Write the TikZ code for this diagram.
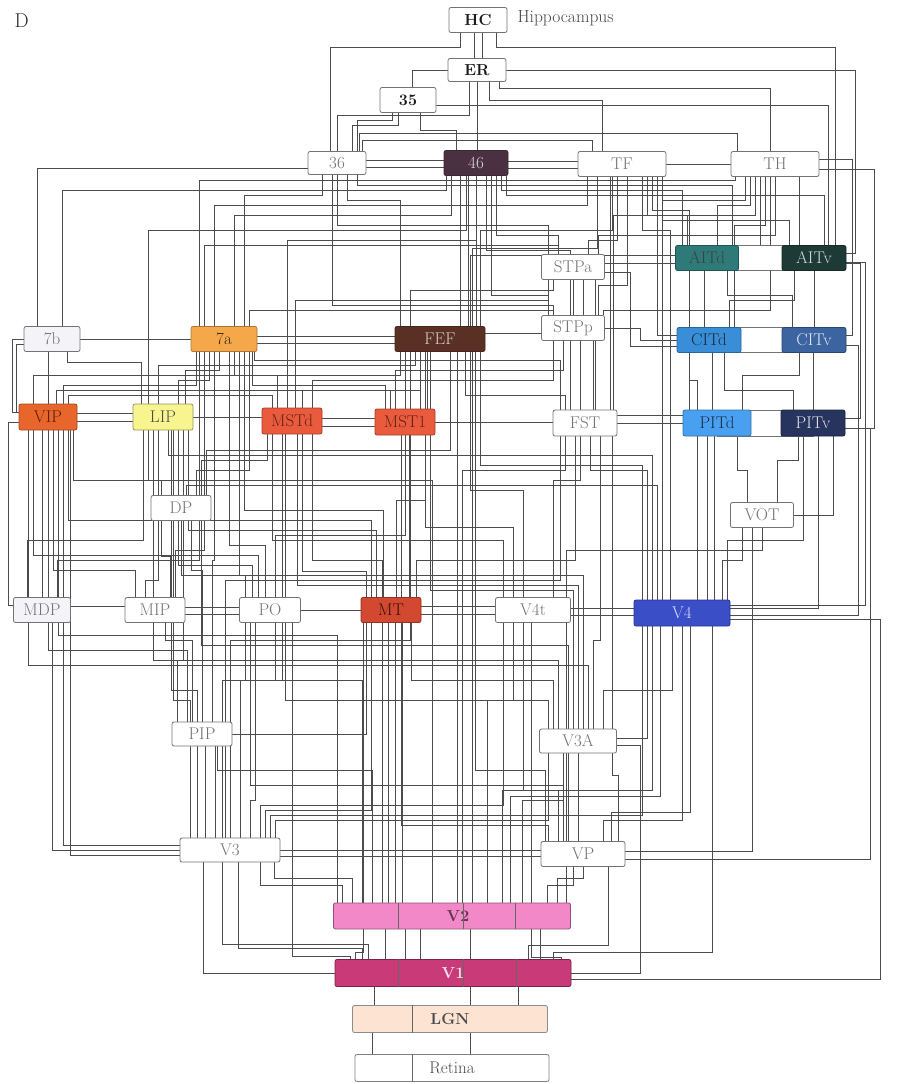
\documentclass[tikz,border=0pt]{standalone}
\usetikzlibrary{calc}
\pgfdeclarelayer{bg}\pgfdeclarelayer{mid}\pgfsetlayers{bg,mid,main}
\definecolor{c46}{HTML}{4A3040}
\definecolor{c7a}{HTML}{F4A84A}
\definecolor{cFEF}{HTML}{5A3024}
\definecolor{cVIP}{HTML}{E8662C}
\definecolor{cLIP}{HTML}{F8F590}
\definecolor{cMST}{HTML}{EA5A3C}
\definecolor{cAITd}{HTML}{2E7A78}
\definecolor{cAITv}{HTML}{1E3A36}
\definecolor{cCITd}{HTML}{3A8ED8}
\definecolor{cCITv}{HTML}{3C64A0}
\definecolor{cPITd}{HTML}{4AA0F0}
\definecolor{cPITv}{HTML}{26345E}
\definecolor{cMT}{HTML}{D24830}
\definecolor{cV4}{HTML}{3A4EC8}
\definecolor{cV2}{HTML}{F388C8}
\definecolor{cV1}{HTML}{C83A78}
\definecolor{cLGN}{HTML}{FDE4D2}
\definecolor{cLav}{HTML}{F3F3F8}
\tikzset{
 box/.style={draw=black!55, rounded corners=2pt, line width=0.8pt, minimum height=25pt,
   inner sep=0pt, font=\fontsize{17}{19}\selectfont, text=black!55, fill=white},
 boldbox/.style={box, text=black!90, font=\bfseries\fontsize{16}{18}\selectfont},
 wire/.style={draw=black!70, line width=0.6pt},
 band/.style={draw=black!55, line width=0.8pt, fill=white},
 divider/.style={draw=black!60, line width=0.6pt}
}
\newcommand\wCn[5]{\draw[wire] let \p1=($(#1)+(#2,0)$),\p2=($(#4)+(#5,0)$) in (\p1)--(\x1,-#3pt)--(\x2,-#3pt)--(\p2);}
\newcommand\wHv[4]{\draw[wire] let \p1=($(#1)+(0,#2)$),\p2=($(#3)+(#4,0)$) in (\p1)--(\x2,\y1)--(\p2);}
\newcommand\wVh[4]{\draw[wire] let \p1=($(#1)+(#2,0)$),\p2=($(#3)+(0,#4)$) in (\p1)--(\x1,\y2)--(\p2);}
\newcommand\wHvh[5]{\draw[wire] let \p1=($(#1)+(0,#2)$),\p2=($(#4)+(0,#5)$) in (\p1)--(#3pt,\y1)--(#3pt,\y2)--(\p2);}
\newcommand\wSv[3]{\draw[wire] let \p1=($(#1)+(#2,0)$),\p2=(#3) in (\p1)--(\x1,\y2);}
\newcommand\wSh[3]{\draw[wire] let \p1=($(#1)+(0,#2)$),\p2=(#3) in (\p1)--(\x2,\y1);}
\begin{document}
\begin{tikzpicture}[x=1pt,y=-1pt]
\useasboundingbox (0,0) rectangle (909,1084);
% labels
\node[anchor=west, font=\fontsize{20}{22}\selectfont, text=black!85] (Dlab) at (11,21) {D};
% nodes
\node[boldbox, minimum width=58pt] (HC) at (478,20) {HC};
\node[anchor=west, font=\fontsize{17.5}{19}\selectfont, text=black!72] (Hip) at (514,18) {Hippocampus};
\node[boldbox, minimum width=58pt, minimum height=23pt] (ER) at (477,70) {ER};
\node[boldbox, minimum width=56pt] (n35) at (408,100) {35};
\node[box, minimum width=58pt, minimum height=23pt] (n36) at (337,163) {36};
\node[box, minimum width=64pt, fill=c46, draw=c46!80!black, text=white!80!c46] (n46) at (476,163) {46};
\node[box, minimum width=88pt] (TF) at (622,164) {TF};
\node[box, minimum width=88pt] (TH) at (775,164) {TH};
\node[box, minimum width=63pt] (STPa) at (573,267) {STPa};
\node[box, minimum width=63pt, fill=cAITd, draw=cAITd!70!black, text=black!75] (AITd) at (707,258) {AITd};
\node[box, minimum width=64pt, fill=cAITv, draw=cAITv!70!black, text=white!80!cAITv] (AITv) at (814,258) {AITv};
\node[box, minimum width=56pt, fill=cLav] (n7b) at (52,339) {7b};
\node[box, minimum width=66pt, fill=c7a, draw=c7a!70!black, text=black!75!c7a] (n7a) at (224,339) {7a};
\node[box, minimum width=90pt, fill=cFEF, draw=cFEF!80!black, text=white!75!cFEF] (FEF) at (440,339) {FEF};
\node[box, minimum width=63pt] (STPp) at (573,328) {STPp};
\node[box, minimum width=64pt, fill=cCITd, draw=cCITd!70!black, text=black!70!cCITd] (CITd) at (709,340) {CITd};
\node[box, minimum width=64pt, fill=cCITv, draw=cCITv!70!black, text=white!85!cCITv] (CITv) at (814,340) {CITv};
\node[box, minimum width=58pt, minimum height=26pt, fill=cVIP, draw=cVIP!70!black, text=black!65!cVIP] (VIP) at (48,417) {VIP};
\node[box, minimum width=60pt, minimum height=26pt, fill=cLIP, draw=cLIP!60!black, text=black!70] (LIP) at (163,417) {LIP};
\node[box, minimum width=60pt, minimum height=26pt, fill=cMST, draw=cMST!70!black, text=black!60!cMST] (MSTd) at (292,421) {MSTd};
\node[box, minimum width=60pt, minimum height=26pt, fill=cMST, draw=cMST!70!black, text=black!60!cMST] (MST1) at (405,422) {MST1};
\node[box, minimum width=64pt, minimum height=26pt] (FST) at (585,423) {FST};
\node[box, minimum width=68pt, minimum height=26pt, fill=cPITd, draw=cPITd!70!black, text=black!70!cPITd] (PITd) at (717,423) {PITd};
\node[box, minimum width=64pt, minimum height=26pt, fill=cPITv, draw=cPITv!70!black, text=white!85!cPITv] (PITv) at (813,423) {PITv};
\node[box, minimum width=60pt] (DP) at (181,508) {DP};
\node[box, minimum width=63pt] (VOT) at (762,515) {VOT};
\node[box, minimum width=57pt, fill=cLav] (MDP) at (42,610) {MDP};
\node[box, minimum width=60pt] (MIP) at (155,610) {MIP};
\node[box, minimum width=61pt] (PO) at (270,610) {PO};
\node[box, minimum width=60pt, fill=cMT, draw=cMT!70!black, text=black!75!cMT] (MT) at (391,610) {MT};
\node[box, minimum width=75pt] (V4t) at (533,610) {V4t};
\node[box, minimum width=96pt, minimum height=26pt, fill=cV4, draw=cV4!70!black, text=white!80!cV4] (V4) at (682,613) {V4};
\node[box, minimum width=60pt, minimum height=24pt] (PIP) at (202,734) {PIP};
\node[box, minimum width=77pt, minimum height=24pt] (V3A) at (578,741) {V3A};
\node[box, minimum width=100pt, minimum height=24pt] (V3) at (230,850) {V3};
\node[box, minimum width=84pt] (VP) at (583,854) {VP};
\node[boldbox, minimum width=237pt, minimum height=26pt, fill=cV2, draw=cV2!60!black, text=black!60!cV2] (V2) at (452,916) {\hspace*{12pt}V2};
\node[boldbox, minimum width=236pt, minimum height=27pt, fill=cV1, draw=cV1!60!black, text=white!85!cV1] (V1) at (453,973) {V1};
\node[boldbox, minimum width=195pt, minimum height=27pt, fill=cLGN, draw=black!45, text=black!70] (LGN) at (450,1019) {LGN};
\node[box, minimum width=194pt, minimum height=27pt, draw=black!50, text=black!70] (Retina) at (452,1068) {Retina};
% dividers
\draw[divider] ([xshift=-54pt]V2.north) -- ([xshift=-54pt]V2.south);
\draw[divider] ([xshift=11pt]V2.north) -- ([xshift=11pt]V2.south);
\draw[divider] ([xshift=63pt]V2.north) -- ([xshift=63pt]V2.south);
\draw[divider] ([xshift=-55pt]V1.north) -- ([xshift=-55pt]V1.south);
\draw[divider] ([xshift=10pt]V1.north) -- ([xshift=10pt]V1.south);
\draw[divider] ([xshift=63pt]V1.north) -- ([xshift=63pt]V1.south);
\draw[divider] ([xshift=-38pt]LGN.north) -- ([xshift=-38pt]LGN.south);
\draw[divider] ([xshift=-40pt]Retina.north) -- ([xshift=-40pt]Retina.south);
% bands joining paired areas
\begin{pgfonlayer}{mid}
\draw[band] ([yshift=-0.5pt]AITd.north) rectangle ([yshift=0.5pt]AITv.south);
\draw[band] ([yshift=-0.5pt]CITd.north) rectangle ([yshift=0.5pt]CITv.south);
\draw[band] ([yshift=-0.5pt]PITd.north) rectangle ([yshift=0.5pt]PITv.south);
\end{pgfonlayer}
\begin{pgfonlayer}{bg}
% bottom
\wSv{Retina.north}{-80}{LGN.south}
\wSv{Retina.north}{18}{LGN.south}
\wSv{LGN.north}{-76}{V1.south}
\wSv{LGN.north}{20}{V1.south}
\wSv{LGN.north}{68}{V1.south}
\wSv{V1.north}{17}{V2.south}
\wSv{V1.north}{87}{V2.south}
\wSv{V1.north}{-68}{V2.south}
\wSv{V1.north}{-48}{V2.south}
\wSv{V1.north}{-33}{V2.south}
% V1
\wHv{V1.west}{0}{V3.south}{-27}
\wCn{V1.north}{-91}{948}{V3.south}{8}
\wCn{V1.north}{-103}{956}{PO.south}{22}
\wCn{V1.north}{-98}{952}{MT.south}{-28}
\wCn{V1.north}{-85}{944}{PIP.south}{20}
\wCn{V1.north}{75}{945}{VP.south}{25}
\wCn{V1.north}{100}{952}{V4.south}{30}
\wHvh{V1.east}{0}{640}{V3A.east}{4}
\wHvh{V1.east}{6}{880}{V4.east}{6}
\wCn{V1.north}{108}{957}{V4t.south}{-2}
% V2
\wCn{V2.north}{-110}{885}{V3.south}{30}
\wCn{V2.north}{-100}{878}{V3.south}{44}
\wCn{V2.north}{95}{885}{VP.south}{-10}
\wCn{V2.north}{105}{878}{VP.south}{0}
\wCn{V2.north}{70}{800}{V3A.south}{-15}
\wCn{V2.north}{50}{790}{V4.south}{-30}
\wCn{V2.north}{58}{796}{V4.south}{-22}
\wCn{V2.north}{35}{700}{V4t.south}{-20}
\wSv{V2.north}{-57}{MT.south}
\wSv{V2.north}{-50}{MT.south}
\wSv{V2.north}{-64}{MT.south}
\wCn{V2.north}{-90}{680}{PO.south}{5}
\wCn{V2.north}{-80}{770}{PIP.south}{15}
\wCn{V2.north}{-70}{560}{MSTd.south}{20}
\wCn{V2.north}{10}{470}{FST.south}{-20}
\wCn{V2.north}{114}{550}{VOT.south}{0}
\wSv{V2.north}{5}{FEF.south}
\wCn{V2.north}{-115}{635}{VIP.south}{10}
\wCn{V2.north}{20}{248}{TF.south}{-25}
\wCn{V2.north}{-20}{480}{LIP.south}{-15}
% V3
\wSv{V3.north}{-25}{PIP.south}
\wSv{V3.north}{-15}{PIP.south}
\wCn{V3.north}{20}{800}{PO.south}{-15}
\wCn{V3.north}{35}{810}{MT.south}{-20}
\wCn{V3.north}{45}{820}{V3A.south}{-30}
\wCn{V3.north}{40}{815}{V4.south}{-40}
\wCn{V3.north}{30}{805}{V4t.south}{-30}
\wCn{V3.north}{-40}{700}{LIP.south}{10}
\wHv{V3.west}{-5}{VIP.south}{15}
\wHv{V3.west}{5}{VIP.south}{22}
\wHv{V3.west}{0}{MDP.south}{10}
\wCn{V3.north}{-33}{690}{DP.south}{-10}
\wCn{V3.north}{10}{680}{MSTd.south}{-10}
\wCn{V3.north}{-5}{580}{FST.south}{-25}
\wCn{V3.north}{0}{640}{FEF.south}{-30}
\wSh{V3.east}{0}{VP.west}
\wSh{V3.east}{6}{VP.west}
% VP
\wSv{VP.north}{-15}{V3A.south}
\wSv{VP.north}{-5}{V3A.south}
\wCn{VP.north}{20}{820}{V4.south}{0}
\wCn{VP.north}{28}{812}{V4.south}{8}
\wCn{VP.north}{-35}{825}{MT.south}{10}
\wCn{VP.north}{35}{775}{FST.south}{27}
\wHv{VP.east}{-3}{VOT.south}{-10}
\wCn{VP.north}{-25}{790}{V4t.south}{-10}
\wCn{VP.north}{-38}{770}{FEF.south}{35}
\wCn{VP.north}{-20}{785}{PO.south}{-20}
\wHvh{VP.east}{5}{870}{PITv.east}{5}
% PIP
\wCn{PIP.north}{20}{680}{PO.south}{-25}
\wCn{PIP.north}{-25}{660}{LIP.south}{20}
\wCn{PIP.north}{-15}{650}{VIP.south}{0}
\wCn{PIP.north}{0}{570}{DP.south}{10}
\wCn{PIP.north}{-10}{640}{MIP.south}{10}
\wCn{PIP.north}{10}{560}{n7a.south}{-10}
\wHv{PIP.east}{0}{MT.south}{-25}
% V3A
\wCn{V3A.north}{25}{690}{V4.south}{-10}
\wHv{V3A.east}{-3}{V4.south}{-35}
\wCn{V3A.north}{-25}{680}{MT.south}{20}
\wCn{V3A.north}{-30}{700}{PO.south}{15}
\wCn{V3A.north}{-20}{660}{LIP.south}{-10}
\wCn{V3A.north}{-10}{645}{DP.south}{20}
\wCn{V3A.north}{15}{640}{FST.south}{15}
\wCn{V3A.north}{0}{585}{MSTd.south}{5}
\wCn{V3A.north}{5}{575}{n7a.south}{15}
\wCn{V3A.north}{-5}{590}{FEF.south}{-10}
\wCn{V3A.north}{10}{665}{VIP.south}{-20}
% row 610
\wSh{MDP.east}{-4}{MIP.west}
\wSh{MIP.east}{-3}{PO.west}
\wSh{MIP.east}{4}{PO.west}
\wSh{PO.east}{0}{MT.west}
\wSh{MT.east}{-4}{V4t.west}
\wSh{MT.east}{4}{V4t.west}
\wSh{V4t.east}{-2}{V4.west}
\wSh{V4t.east}{5}{V4.west}
% MDP MIP PO
\wSv{MDP.north}{0}{VIP.south}
\wCn{MDP.north}{15}{560}{n7a.south}{-25}
\wCn{MDP.north}{-15}{540}{LIP.south}{-20}
\wHvh{MDP.west}{-5}{8}{VIP.west}{5}
\wCn{MIP.north}{-10}{580}{LIP.south}{-5}
\wCn{MIP.north}{-20}{570}{VIP.south}{5}
\wCn{MIP.north}{15}{556}{DP.south}{-20}
\wCn{MIP.north}{20}{550}{n7a.south}{-20}
\wCn{PO.north}{-25}{575}{DP.south}{0}
\wCn{PO.north}{-18}{565}{LIP.south}{15}
\wCn{PO.north}{-12}{555}{VIP.south}{-15}
\wSv{PO.north}{15}{MSTd.south}
\wCn{PO.north}{-5}{545}{n7a.south}{5}
\wCn{PO.north}{5}{535}{FEF.south}{-35}
% MT
\wCn{MT.north}{-25}{571}{MSTd.south}{10}
\wSv{MT.north}{10}{MST1.south}
\wSv{MT.north}{18}{MST1.south}
\wCn{MT.north}{25}{560}{FST.south}{-10}
\wCn{MT.north}{5}{500}{FEF.south}{-15}
\wCn{MT.north}{-15}{530}{LIP.south}{25}
\wCn{MT.north}{-20}{520}{VIP.south}{20}
\wCn{MT.north}{-8}{510}{n7a.south}{20}
% V4t
\wCn{V4t.north}{-30}{540}{MSTd.south}{-20}
\wCn{V4t.north}{-20}{527}{MST1.south}{20}
\wCn{V4t.north}{20}{480}{FST.south}{-5}
\wCn{V4t.north}{-10}{490}{FEF.south}{30}
% V4
\wCn{V4.north}{40}{560}{VOT.south}{-20}
\wSv{V4.north}{25}{PITd.south}
\wSv{V4.north}{32}{PITd.south}
\wCn{V4.north}{45}{540}{PITv.south}{-10}
\wHv{V4.east}{-5}{PITv.south}{5}
\wCn{V4.north}{-35}{470}{FST.south}{5}
\wCn{V4.north}{-12}{230}{TF.south}{20}
\wCn{V4.north}{-20}{200}{TH.south}{-30}
\wCn{V4.north}{-40}{465}{FEF.south}{40}
\wCn{V4.north}{-30}{455}{LIP.south}{5}
\wCn{V4.north}{-25}{485}{DP.north}{5}
\wCn{V4.north}{15}{380}{CITd.south}{-20}
\wHvh{V4.east}{-8}{865}{AITv.east}{4}
\wHvh{V4.east}{2}{858}{CITv.east}{5}
% VOT
\wCn{VOT.north}{-15}{470}{PITd.south}{20}
\wCn{VOT.north}{15}{460}{PITv.south}{-15}
\wHv{VOT.east}{0}{PITv.south}{20}
% DP
\wSv{DP.north}{-10}{LIP.south}
\wCn{DP.north}{15}{470}{n7a.south}{25}
\wCn{DP.north}{-20}{480}{VIP.south}{25}
\wCn{DP.north}{20}{460}{MSTd.south}{-25}
\wCn{DP.north}{25}{450}{FEF.south}{10}
% row 420
\wSh{VIP.east}{-4}{LIP.west}
\wSh{VIP.east}{4}{LIP.west}
\wSh{LIP.east}{0}{MSTd.west}
\wSh{MSTd.east}{-3}{MST1.west}
\wSh{MSTd.east}{5}{MST1.west}
\wSh{MST1.east}{0}{FST.west}
\wSh{FST.east}{0}{PITd.west}
% VIP LIP
\wSv{VIP.north}{0}{n7b.south}
\wCn{VIP.north}{15}{385}{n7a.south}{-28}
\wCn{VIP.north}{20}{395}{MSTd.north}{-20}
\wCn{VIP.north}{-15}{375}{FEF.south}{-40}
\wHvh{VIP.west}{-5}{12}{n7b.west}{0}
\wCn{VIP.north}{8}{390}{MST1.north}{-15}
\wCn{LIP.north}{15}{380}{n7a.south}{-15}
\wCn{LIP.north}{22}{370}{n7a.south}{-5}
\wCn{LIP.north}{-5}{365}{FEF.south}{-25}
\wCn{LIP.north}{-15}{230}{n46.south}{-10}
\wCn{LIP.north}{-22}{362}{n7b.south}{15}
% MSTd MST1
\wCn{MSTd.north}{-15}{375}{n7a.south}{10}
\wCn{MSTd.north}{10}{390}{FEF.south}{-20}
\wCn{MSTd.north}{20}{380}{STPp.south}{-20}
\wCn{MSTd.north}{-5}{240}{n46.south}{0}
\wCn{MSTd.north}{3}{300}{STPa.south}{-25}
\wSv{MST1.north}{15}{FEF.south}
\wSv{MST1.north}{22}{FEF.south}
\wCn{MST1.north}{-20}{385}{n7a.south}{28}
\wCn{MST1.north}{-10}{370}{STPp.south}{-10}
% FST
\wSv{FST.north}{-5}{STPp.south}
\wSv{FST.north}{10}{STPa.south}
\wCn{FST.north}{-20}{395}{FEF.south}{25}
\wCn{FST.north}{-25}{360}{n7a.south}{30}
\wSv{FST.north}{25}{TF.south}
\wCn{FST.north}{28}{215}{TH.south}{-20}
\wCn{FST.north}{-15}{250}{n46.south}{10}
% PITd PITv
\wSv{PITd.north}{-5}{CITd.south}
\wCn{PITd.north}{25}{375}{CITv.south}{-15}
\wCn{PITd.north}{-28}{210}{TF.south}{30}
\wHv{PITd.west}{-8}{STPp.south}{20}
\wSv{PITv.north}{0}{CITv.south}
\wCn{PITv.north}{-20}{390}{CITd.south}{15}
\wHvh{PITv.east}{-5}{860}{AITv.east}{5}
\wHvh{PITv.east}{5}{874}{TH.east}{5}
% CITd CITv
\wSv{CITd.north}{-5}{AITd.south}
\wCn{CITd.north}{20}{300}{AITv.south}{-20}
\wHv{CITd.west}{-5}{TF.south}{35}
\wHvh{CITd.west}{0}{640}{STPp.east}{0}
\wHvh{CITd.west}{6}{630}{STPa.east}{5}
\wCn{CITd.north}{25}{225}{TH.south}{-10}
\wSv{CITv.north}{0}{AITv.south}
\wCn{CITv.north}{-22}{295}{AITd.south}{20}
\wHvh{CITv.east}{-5}{852}{TH.east}{-5}
% AITd AITv
\wCn{AITd.north}{-20}{215}{TF.south}{25}
\wCn{AITd.north}{10}{205}{TH.south}{-25}
\wCn{AITd.north}{-25}{190}{n46.south}{25}
\wSh{AITd.west}{5}{STPa.east}
\wCn{AITd.north}{25}{185}{n36.south}{20}
\wSv{AITv.north}{-15}{TH.south}
\wCn{AITv.north}{-25}{220}{TF.south}{40}
\wCn{AITv.north}{10}{195}{n46.south}{30}
\wHvh{AITv.east}{-5}{855}{ER.east}{0}
% top
\wCn{HC.south}{18}{47}{AITv.north}{21}
\wCn{HC.south}{-18}{47}{n36.north}{-7}
\wSv{HC.south}{-4}{ER.north}
\wSv{HC.south}{4}{ER.north}
\wHv{ER.west}{0}{n35.north}{4}
\wCn{n35.south}{-10}{125}{n36.north}{15}
\wCn{n35.south}{-16}{120}{n36.north}{20}
\wHv{n35.east}{5}{AITv.north}{14}
\wCn{n35.south}{12}{130}{n46.north}{-20}
\wCn{ER.south}{22}{88}{TH.north}{-5}
\wCn{ER.south}{12}{100}{TF.north}{-20}
\wSv{ER.south}{0}{n46.north}
\wCn{ER.south}{-8}{115}{n36.north}{0}
\wSh{n36.east}{-3}{n46.west}
\wSh{n36.east}{4}{n46.west}
\wSh{n46.east}{-2}{TF.west}
\wSh{n46.east}{5}{TF.west}
\wSh{TF.east}{0}{TH.west}
\wCn{n36.north}{25}{140}{TF.north}{-30}
\wCn{n36.north}{22}{133}{TH.north}{-38}
% 7a 7b
\wCn{n7a.north}{10}{215}{n46.south}{-25}
\wCn{n7a.north}{20}{195}{n36.south}{-15}
\wCn{n7a.north}{-10}{205}{TF.south}{-35}
\wSh{n7a.east}{-3}{FEF.west}
\wSh{n7a.east}{4}{FEF.west}
\wSh{n7b.east}{0}{n7a.west}
\wCn{n7a.north}{25}{310}{STPp.north}{-20}
\wCn{n7a.north}{-20}{245}{STPa.north}{-15}
\wCn{n7a.north}{-25}{180}{TH.south}{-40}
\wCn{n7b.north}{10}{190}{n46.south}{-30}
\wVh{n7b.north}{-15}{n36.west}{5}
\wHvh{n7b.west}{5}{16}{VIP.west}{-5}
% FEF
\wSv{FEF.north}{20}{n46.south}
\wSv{FEF.north}{28}{n46.south}
\wSv{FEF.north}{36}{n46.south}
\wCn{FEF.north}{40}{230}{TF.south}{-10}
\wSh{FEF.east}{-6}{STPp.west}
\wCn{FEF.north}{-30}{290}{STPa.south}{-20}
\wCn{FEF.north}{-40}{200}{n36.south}{10}
\wCn{FEF.north}{30}{255}{TH.south}{-15}
% STPp STPa
\wSv{STPp.north}{0}{STPa.south}
\wSv{STPp.north}{10}{STPa.south}
\wCn{STPp.north}{-25}{295}{n46.south}{15}
\wCn{STPp.north}{25}{285}{TF.south}{5}
\wCn{STPp.north}{30}{310}{TH.south}{-5}
\wCn{STPp.north}{-20}{305}{n36.south}{-5}
\wCn{STPa.north}{-15}{235}{n46.south}{20}
\wCn{STPa.north}{15}{240}{TF.south}{-5}
\wCn{STPa.north}{-25}{225}{n36.south}{0}
\wCn{STPa.north}{25}{235}{TH.south}{0}
\end{pgfonlayer}
\end{tikzpicture}
\end{document}
